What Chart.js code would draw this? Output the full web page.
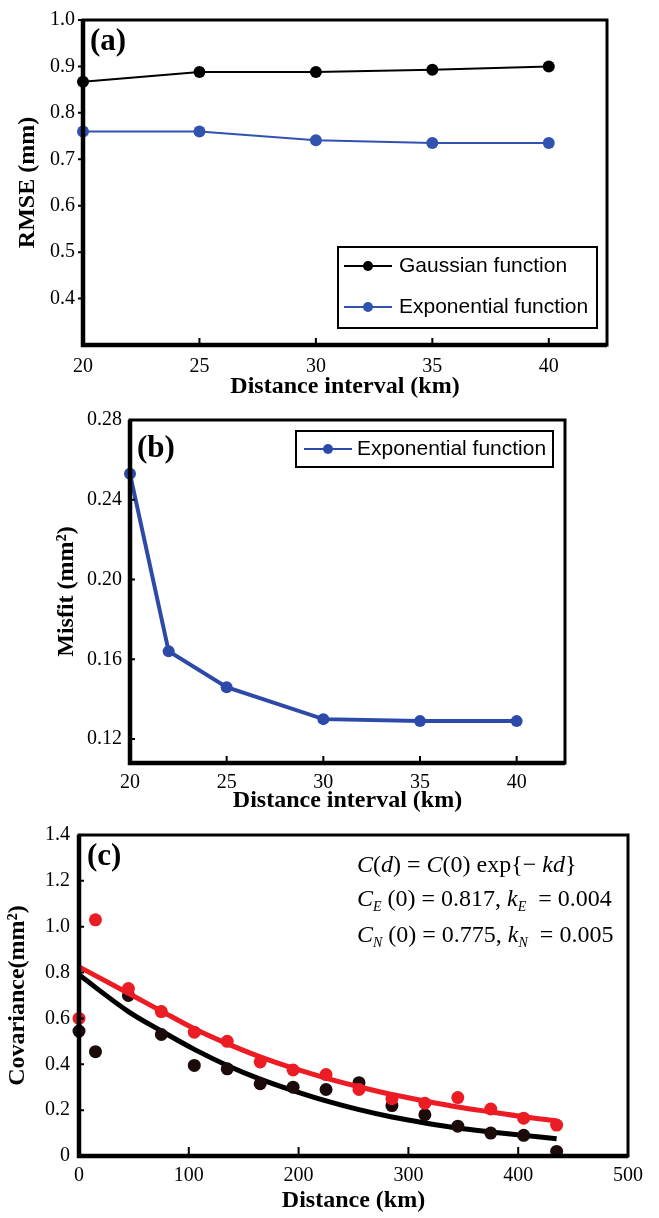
<!DOCTYPE html>
<html lang="en">
<head>
<meta charset="UTF-8">
<title>RMSE, misfit and covariance</title>
<script src="https://cdn.jsdelivr.net/npm/chart.js@4/dist/chart.umd.min.js"></script>
<style>
    body { margin: 0; background: #fff; }
    .panel { position: absolute; left: 0; width: 659px; }
    #pa { top: 0; height: 400px; }
    #pb { top: 400px; height: 416px; }
    #pc { top: 810px; height: 408px; }
</style>
</head>
<body>
<div class="panel" id="pa"><canvas id="chartA"></canvas></div>
<div class="panel" id="pb"><canvas id="chartB"></canvas></div>
<div class="panel" id="pc"><canvas id="chartC"></canvas></div>
<script>
// (a) RMSE against distance interval
const intervalKm = [20, 25, 30, 35, 40];
const rmseGauss = [0.867, 0.888, 0.888, 0.893, 0.900];
const rmseExpo = [0.760, 0.760, 0.741, 0.735, 0.735];
const intervalTicks = [20, 25, 30, 35, 40];
const rmseTicks = [0.4, 0.5, 0.6, 0.7, 0.8, 0.9, 1.0];

// (b) misfit against distance interval
const misfitKm = [20, 22, 25, 30, 35, 40];
const misfitExpo = [0.253, 0.164, 0.146, 0.130, 0.129, 0.129];
const misfitTicks = [0.12, 0.16, 0.20, 0.24, 0.28];

// (c) empirical covariance (E = red, N = black) and fitted curves
const distKm = [0, 15, 45, 75, 105, 135, 165, 195, 225, 255, 285, 315, 345, 375, 405, 435];
const covEast = [0.60, 1.03, 0.73, 0.63, 0.54, 0.50, 0.41, 0.375, 0.355, 0.29, 0.25, 0.23, 0.255, 0.205, 0.165, 0.135];
const covNorth = [0.545, 0.455, 0.70, 0.53, 0.395, 0.38, 0.315, 0.30, 0.29, 0.32, 0.22, 0.18, 0.13, 0.10, 0.09, 0.02];
const fitKm = [0, 45, 75, 105, 135, 165, 195, 225, 255, 285, 315, 345, 375, 405, 435];
const fitEast = [0.825, 0.71, 0.632, 0.555, 0.49, 0.432, 0.383, 0.34, 0.302, 0.268, 0.24, 0.214, 0.192, 0.171, 0.153];
const fitNorth = [0.79, 0.63, 0.545, 0.465, 0.395, 0.335, 0.285, 0.24, 0.202, 0.17, 0.144, 0.122, 0.105, 0.09, 0.075];
const distTicks = [0, 100, 200, 300, 400, 500];
const covTicks = [0, 0.2, 0.4, 0.6, 0.8, 1.0, 1.2, 1.4];

const SERIF = '"Liberation Serif", "Times New Roman", serif';
const SANS = '"Liberation Sans", Arial, sans-serif';
const BLUE = '#3252b0';
const RED = '#ec1c24';

function pts(xs, ys) {
    return xs.map((x, i) => ({ x: x, y: ys[i] }));
}

// draws one line of mixed italic / subscript text
function richLine(ctx, x, y, parts, size) {
    parts.forEach(p => {
        const sub = p[1].includes('s');
        const fs = sub ? Math.round(size * 0.6) : size;
        ctx.font = (p[1].includes('i') ? 'italic ' : '') + fs + 'px ' + SERIF;
        ctx.fillText(p[0], x, sub ? y + size * 0.32 : y);
        x += ctx.measureText(p[0]).width;
    });
}

// frame, inside ticks, panel letter, boxed legend and notes
const decor = {
    id: 'decor',
    afterDraw(chart, args, o) {
        const ctx = chart.ctx, a = chart.chartArea;
        const xs = chart.scales.x, ys = chart.scales.y;
        ctx.save();
        ctx.strokeStyle = '#000';
        ctx.lineWidth = 2;
        ctx.beginPath();
        xs.ticks.forEach(t => {
            const px = xs.getPixelForValue(t.value);
            ctx.moveTo(px, a.bottom);
            ctx.lineTo(px, a.bottom - o.xTick);
        });
        ys.ticks.forEach(t => {
            const py = ys.getPixelForValue(t.value);
            ctx.moveTo(a.left, py);
            ctx.lineTo(a.left + o.yTick, py);
        });
        ctx.stroke();
        // heavier left/bottom, lighter top/right like the original
        ctx.lineWidth = 3;
        ctx.strokeRect(a.left, a.top, a.right - a.left, a.bottom - a.top);
        ctx.lineWidth = 4.5;
        ctx.beginPath();
        ctx.moveTo(a.left, a.top);
        ctx.lineTo(a.left, a.bottom);
        ctx.lineTo(a.right, a.bottom);
        ctx.stroke();

        ctx.fillStyle = '#000';
        ctx.textBaseline = 'middle';
        ctx.textAlign = 'left';
        ctx.font = 'bold 31px ' + SERIF;
        ctx.fillText(o.tag, a.left + o.tagAt[0], a.top + o.tagAt[1]);

        if (o.legend) {
            const L = o.legend;
            const bx = a.left + L.x, by = a.top + L.y;
            ctx.lineWidth = 2;
            ctx.strokeRect(bx, by, L.w, L.h);
            ctx.font = '21px ' + SANS;
            L.rows.forEach((ry, i) => {
                const ds = chart.data.datasets[i];
                const y = by + ry;
                ctx.strokeStyle = ds.borderColor;
                ctx.lineWidth = 2;
                ctx.beginPath();
                ctx.moveTo(bx + L.line[0], y);
                ctx.lineTo(bx + L.line[1], y);
                ctx.stroke();
                ctx.fillStyle = ds.borderColor;
                ctx.beginPath();
                ctx.arc(bx + (L.line[0] + L.line[1]) / 2, y, 5, 0, Math.PI * 2);
                ctx.fill();
                ctx.fillStyle = '#000';
                ctx.fillText(ds.label, bx + L.text, y);
            });
        }

        if (o.notes) {
            ctx.fillStyle = '#000';
            o.notes.lines.forEach((parts, i) => {
                richLine(ctx, a.left + o.notes.x, a.top + o.notes.y[i], parts, 24);
            });
        }
        ctx.restore();
    }
};

function makeChart(id, datasets, c) {
    const tickFont = { family: SERIF, size: 20 };
    const titleFont = { family: SERIF, size: 24, weight: 'bold', lineHeight: 1 };
    return new Chart(document.getElementById(id), {
        type: 'scatter',
        data: { datasets: datasets },
        options: {
            responsive: true,
            maintainAspectRatio: false,
            animation: false,
            layout: { padding: { left: 0, top: c.padT, right: c.padR, bottom: 0 } },
            scales: {
                x: {
                    type: 'linear',
                    min: c.xMin, max: c.xMax,
                    afterBuildTicks: s => { s.ticks = c.xTicks.map(v => ({ value: v })); },
                    afterFit: s => { s.height = c.xH; },
                    grid: { display: false, drawTicks: false },
                    border: { display: false },
                    ticks: { font: tickFont, color: '#000', padding: c.xPad, maxRotation: 0, autoSkip: false,
                             callback: v => String(v) },
                    title: { display: true, text: c.xTitle, font: titleFont, color: '#000',
                             padding: { top: 0, bottom: c.xTitlePad } }
                },
                y: {
                    type: 'linear',
                    min: c.yMin, max: c.yMax,
                    afterBuildTicks: s => { s.ticks = c.yTicks.map(v => ({ value: v })); },
                    afterFit: s => { s.width = c.yW; },
                    grid: { display: false, drawTicks: false },
                    border: { display: false },
                    ticks: { font: tickFont, color: '#000', padding: c.yPad, autoSkip: false, callback: c.yFmt },
                    title: { display: true, text: c.yTitle, font: titleFont, color: '#000',
                             padding: { top: c.yTitlePad, bottom: 0 } }
                }
            },
            plugins: {
                legend: { display: false },
                tooltip: { enabled: false },
                decor: c.decor
            }
        },
        plugins: [decor]
    });
}

makeChart('chartA', [
    { label: 'Gaussian function', data: pts(intervalKm, rmseGauss), showLine: true, clip: false,
      borderColor: '#000', backgroundColor: '#000', borderWidth: 2, pointRadius: 6, pointBorderWidth: 0 },
    { label: 'Exponential function', data: pts(intervalKm, rmseExpo), showLine: true, clip: false,
      borderColor: BLUE, backgroundColor: BLUE, borderWidth: 2, pointRadius: 6, pointBorderWidth: 0 }
], {
    padT: 14, padR: 52, xH: 55, yW: 83,
    xMin: 20, xMax: 42.5, xTicks: intervalTicks, xPad: 10, xTitle: 'Distance interval (km)', xTitlePad: 1,
    yMin: 0.3, yMax: 1.0, yTicks: rmseTicks, yPad: 8, yTitle: 'RMSE (mm)', yTitlePad: 16,
    yFmt: v => v.toFixed(1),
    decor: { xTick: 7, yTick: -5, tag: '(a)', tagAt: [7, 22],
             legend: { x: 255, y: 227, w: 259, h: 81, rows: [19, 60], line: [6, 54], text: 61 } }
});

makeChart('chartB', [
    { label: 'Exponential function', data: pts(misfitKm, misfitExpo), showLine: true, clip: false,
      borderColor: '#2e4aa8', backgroundColor: '#2e4aa8', borderWidth: 4, pointRadius: 6, pointBorderWidth: 0 }
], {
    padT: 14, padR: 94, xH: 53, yW: 130,
    xMin: 20, xMax: 42.5, xTicks: intervalTicks, xPad: 8, xTitle: 'Distance interval (km)', xTitlePad: 3,
    yMin: 0.108, yMax: 0.28, yTicks: misfitTicks, yPad: 8, yTitle: 'Misfit (mm²)', yTitlePad: 55,
    yFmt: v => v.toFixed(2),
    decor: { xTick: 7, yTick: 5, tag: '(b)', tagAt: [7, 29],
             legend: { x: 166, y: 11, w: 257, h: 36, rows: [18], line: [8, 56], text: 61 } }
});

makeChart('chartC', [
    { label: 'E', data: pts(distKm, covEast), clip: false,
      backgroundColor: RED, borderColor: RED, pointRadius: 6.5, pointBorderWidth: 0 },
    { label: 'E fit', data: pts(fitKm, fitEast), showLine: true, clip: false,
      borderColor: RED, borderWidth: 5, pointRadius: 0, tension: 0.4, cubicInterpolationMode: 'monotone' },
    { label: 'N', data: pts(distKm, covNorth), clip: false,
      backgroundColor: '#1b0b0b', borderColor: '#1b0b0b', pointRadius: 6.5, pointBorderWidth: 0 },
    { label: 'N fit', data: pts(fitKm, fitNorth), showLine: true, clip: false,
      borderColor: '#000', borderWidth: 5, pointRadius: 0, tension: 0.4, cubicInterpolationMode: 'monotone' }
], {
    padT: 25, padR: 31, xH: 62, yW: 79,
    xMin: 0, xMax: 500, xTicks: distTicks, xPad: 8, xTitle: 'Distance (km)', xTitlePad: 5,
    yMin: 0, yMax: 1.4, yTicks: covTicks, yPad: 9, yTitle: 'Covariance(mm²)', yTitlePad: 6,
    yFmt: v => (v === 0 ? '0' : v.toFixed(1)),
    decor: { xTick: 9, yTick: 5, tag: '(c)', tagAt: [8, 22],
             notes: { x: 278, y: [31, 65, 101], lines: [
                 [['C', 'i'], ['(', ''], ['d', 'i'], [') = ', ''], ['C', 'i'], ['(0) exp{− ', ''], ['kd', 'i'], ['}', '']],
                 [['C', 'i'], ['E', 'is'], [' (0) = 0.817, ', ''], ['k', 'i'], ['E', 'is'], ['  = 0.004', '']],
                 [['C', 'i'], ['N', 'is'], [' (0) = 0.775, ', ''], ['k', 'i'], ['N', 'is'], ['  = 0.005', '']]
             ] } }
});
</script>
</body>
</html>
